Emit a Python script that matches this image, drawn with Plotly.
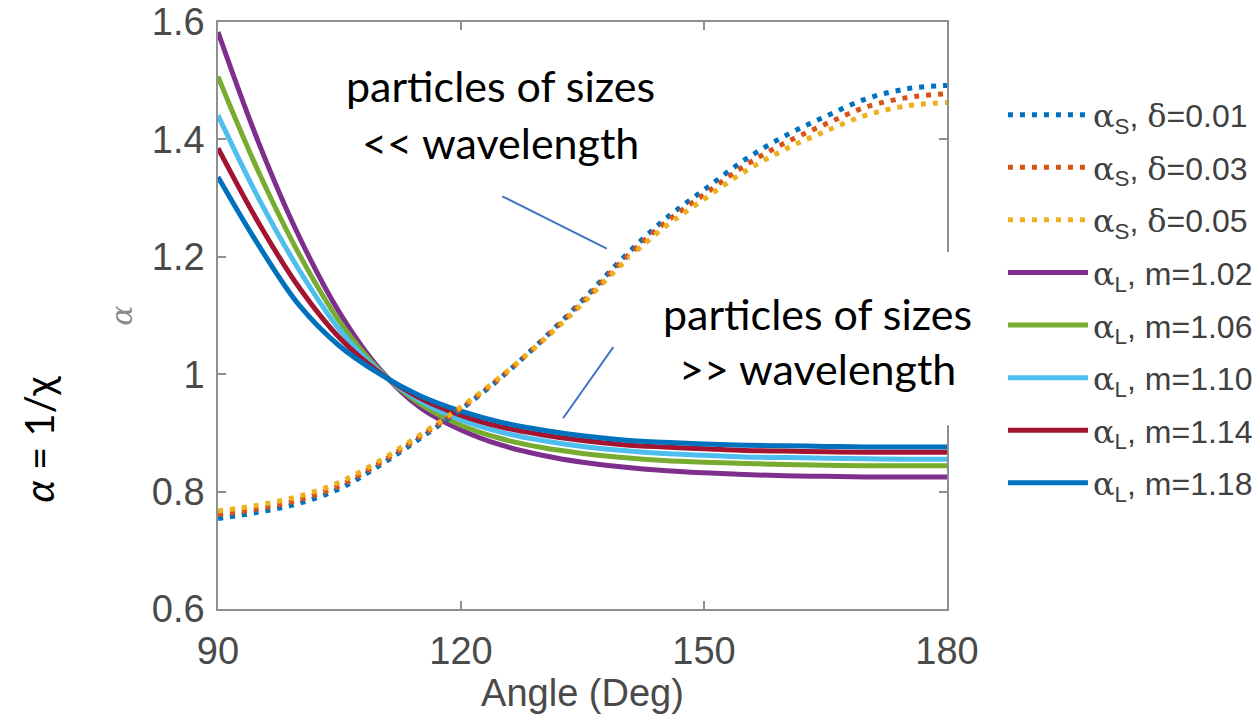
import plotly.graph_objects as go

# Scattering angle grid (degrees)
angle = [90, 95, 100, 105, 110, 115, 120, 125, 130, 135,
         140, 145, 150, 155, 160, 165, 170, 175, 180]

# Small-particle ratio alpha_S for three depolarisation values
alpha_s_001 = [0.754, 0.765, 0.780, 0.805, 0.845, 0.891, 0.940, 0.995, 1.058, 1.126,
               1.198, 1.262, 1.314, 1.365, 1.406, 1.439, 1.469, 1.486, 1.492]
alpha_s_003 = [0.761, 0.771, 0.786, 0.810, 0.849, 0.894, 0.942, 0.996, 1.057, 1.123,
               1.194, 1.256, 1.306, 1.355, 1.394, 1.426, 1.455, 1.471, 1.478]
alpha_s_005 = [0.767, 0.777, 0.792, 0.816, 0.853, 0.897, 0.944, 0.997, 1.056, 1.120,
               1.189, 1.249, 1.298, 1.345, 1.383, 1.414, 1.441, 1.457, 1.463]

# Large-particle ratio alpha_L for five refractive indices
alpha_l_102 = [1.583, 1.395, 1.235, 1.105, 1.008, 0.943, 0.905, 0.879, 0.862, 0.850,
               0.842, 0.836, 0.832, 0.829, 0.827, 0.826, 0.825, 0.825, 0.825]
alpha_l_106 = [1.507, 1.345, 1.205, 1.090, 1.006, 0.949, 0.913, 0.890, 0.875, 0.865,
               0.858, 0.853, 0.850, 0.848, 0.846, 0.845, 0.844, 0.844, 0.844]
alpha_l_110 = [1.441, 1.300, 1.178, 1.076, 1.004, 0.954, 0.922, 0.901, 0.887, 0.877,
               0.870, 0.865, 0.862, 0.859, 0.858, 0.857, 0.856, 0.855, 0.855]
alpha_l_114 = [1.385, 1.258, 1.148, 1.062, 1.002, 0.959, 0.930, 0.910, 0.897, 0.887,
               0.880, 0.876, 0.873, 0.870, 0.869, 0.868, 0.867, 0.867, 0.867]
alpha_l_118 = [1.336, 1.220, 1.118, 1.048, 1.000, 0.963, 0.937, 0.918, 0.905, 0.895,
               0.888, 0.884, 0.881, 0.879, 0.878, 0.877, 0.876, 0.876, 0.876]

s_series = [("0.01", alpha_s_001, "#0072BD"),
            ("0.03", alpha_s_003, "#D95319"),
            ("0.05", alpha_s_005, "#EDB120")]
l_series = [("1.02", alpha_l_102, "#7E2F8E"),
            ("1.06", alpha_l_106, "#77AC30"),
            ("1.10", alpha_l_110, "#4DBEEE"),
            ("1.14", alpha_l_114, "#A2142F"),
            ("1.18", alpha_l_118, "#0072BD")]

x_ticks = [90, 120, 150, 180]
y_ticks = [0.6, 0.8, 1.0, 1.2, 1.4, 1.6]
y_ticktext = ["0.6", "0.8", "1", "1.2", "1.4", "1.6"]

GREEK = "font-family:'DejaVu Serif'"
AX_GREY = "#8f8f8f"
TXT_GREY = "#4a4a4a"

fig = go.Figure()

# solid large-particle curves first, dotted small-particle curves drawn on top
for i, (m, vals, col) in enumerate(l_series):
    fig.add_trace(go.Scatter(
        x=angle, y=vals, mode="lines", line=dict(color=col, width=5, shape="spline"),
        name=f"<span style=\"{GREEK}\">α</span><sub>L</sub>, m={m}",
        legendrank=10 + i, legendgroup=f"l{i}"))
for i, (d, vals, col) in enumerate(s_series):
    fig.add_trace(go.Scatter(
        x=angle, y=vals, mode="lines",
        line=dict(color=col, width=5, dash="5px,7px", shape="spline"),
        name=f"<span style=\"{GREEK}\">α</span><sub>S</sub>, <span style=\"{GREEK}\">δ</span>={d}",
        legendrank=i, legendgroup=f"s{i}"))

axis_common = dict(showline=True, linecolor=AX_GREY, linewidth=1.5, mirror="ticks",
                   ticks="inside", ticklen=8, tickcolor=AX_GREY, tickwidth=1.5,
                   showgrid=False, zeroline=False, automargin=False,
                   tickfont=dict(family="Liberation Sans", size=38, color=TXT_GREY))

fig.update_xaxes(range=[90, 180], tickvals=x_ticks, ticklabelstandoff=8, **axis_common,
                 title=dict(text="Angle (Deg)", standoff=2,
                            font=dict(family="Liberation Sans", size=38, color=TXT_GREY)))
fig.update_yaxes(range=[0.6, 1.6], tickvals=y_ticks, ticktext=y_ticktext, ticklabelstandoff=4,
                 **axis_common,
                 title=dict(text="<i>α</i>", standoff=10,
                            font=dict(family="DejaVu Serif", size=30, color="#8a8a8a")))

# callout box over the upper right part of the axes
fig.add_shape(type="rect", xref="paper", yref="paper", x0=0.565, x1=1.073, y0=0.313, y1=0.608,
              fillcolor="white", line=dict(width=0), layer="above")

# callout pointer lines
fig.add_shape(type="line", xref="x", yref="y", x0=125.1, y0=1.303, x1=138.0, y1=1.214,
              line=dict(color="#4472C4", width=2), layer="above")
fig.add_shape(type="line", xref="x", yref="y", x0=132.6, y0=0.925, x1=138.8, y1=1.046,
              line=dict(color="#4472C4", width=2), layer="above")

CALLOUT = dict(family="Lato", size=43, color="black")
callouts = [
    (0.388, 0.891, "particles of sizes"),
    (0.388, 0.795, "<< wavelength"),
    (0.822, 0.504, "particles of sizes"),
    (0.822, 0.410, ">> wavelength"),
]
for cx, cy, txt in callouts:
    fig.add_annotation(xref="paper", yref="paper", x=cx, y=cy, text=txt, showarrow=False,
                       xanchor="center", yanchor="middle", font=CALLOUT)

# outer ratio label
fig.add_annotation(xref="paper", yref="paper", x=-0.246, y=0.29, text="<i>α</i> = 1/χ",
                   showarrow=False, textangle=-90, xanchor="center", yanchor="middle",
                   font=dict(family="Lato", size=40, color="black"))

fig.update_layout(
    width=1260, height=722,
    margin=dict(l=218, r=313, t=22, b=113),
    paper_bgcolor="white", plot_bgcolor="white",
    legend=dict(xref="container", yref="container", x=0.796, y=0.879,
                xanchor="left", yanchor="top", itemwidth=80, tracegroupgap=8,
                maxheight=1,
                font=dict(family="Liberation Sans", size=32, color="#404040"),
                bgcolor="rgba(0,0,0,0)"),
)

fig.write_html("out.html")
